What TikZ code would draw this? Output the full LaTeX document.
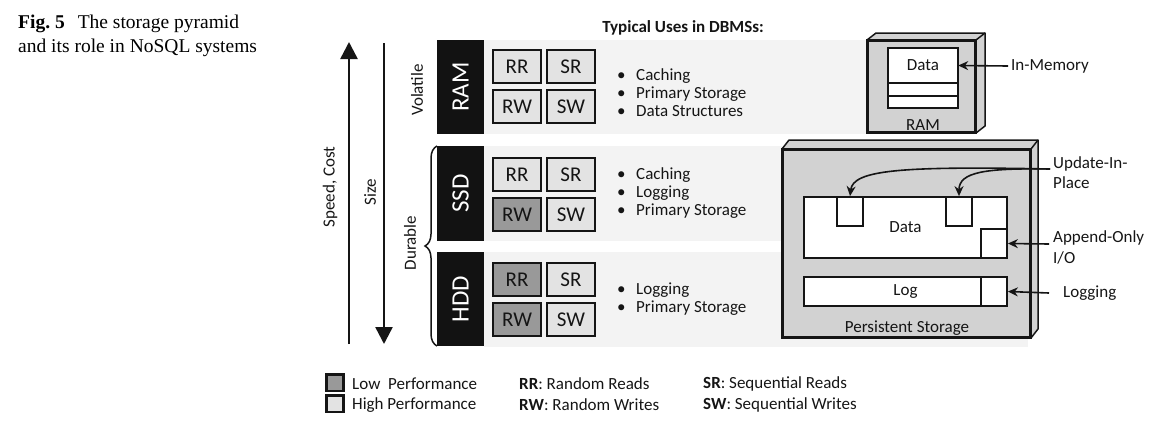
\documentclass[tikz,border=0pt]{standalone}
\usepackage{fontspec}
\setmainfont{Carlito}
\newfontfamily\capfont{Liberation Serif}
\usetikzlibrary{arrows.meta,decorations.pathreplacing}
\definecolor{rowbg}{HTML}{F3F3F3}
\definecolor{hi}{HTML}{E3E3E3}
\definecolor{lo}{HTML}{999999}
\definecolor{boxgray}{HTML}{D2D2D2}
\definecolor{barcol}{HTML}{121212}
\definecolor{ink}{HTML}{151515}
\begin{document}
\begin{tikzpicture}[x=1pt,y=-1pt,
  txt/.style={font=\fontsize{17}{20}\selectfont, text=ink, inner sep=0pt},
  perf/.style={draw=ink, line width=2pt, minimum width=48pt, minimum height=33pt, inner sep=0pt, font=\fontsize{21}{24}\selectfont, text=ink},
  devbar/.style={fill=barcol, minimum width=47pt, minimum height=94pt, inner sep=0pt, text=white, font=\fontsize{25}{28}\selectfont},
  bigarrow/.style={line width=2.5pt, draw=ink, -{Triangle[length=17pt,width=17pt]}},
  conn/.style={line width=1.6pt, draw=ink, -{Stealth[length=10pt,width=9pt]}},
  cell/.style={draw=ink, fill=white, line width=1.8pt, inner sep=0pt},
  usel/.style={txt, align=left, anchor=west, font=\fontsize{17}{18}\selectfont},
  legsq/.style={draw=ink, line width=2.5pt, minimum width=17pt, minimum height=16.5pt, inner sep=0pt}
]
\useasboundingbox (0,0) rectangle (1175,426);

% caption
\node[anchor=base west, inner sep=0pt, font=\capfont\fontsize{19.5}{24}\selectfont] (cap1) at (18,28) {\textbf{Fig.\ 5}\hspace{13pt}The storage pyramid};
\node[anchor=base west, inner sep=0pt, font=\capfont\fontsize{19.5}{24}\selectfont] (cap2) at (18,52) {and its role in NoSQL systems};

% heading
\node[txt, font=\bfseries\fontsize{17}{20}\selectfont] (head) at (683,28) {Typical Uses in DBMSs:};

% row backgrounds
\fill[rowbg] (484,40) rectangle (970,134);
\fill[rowbg] (484,146) rectangle (1028,241);
\fill[rowbg] (484,252) rectangle (1028,347);

% device bars
\node[devbar] (ram) at (460.5,87) {\rotatebox{90}{RAM}};
\node[devbar, minimum height=95pt] (ssd) at (460.5,193.5) {\rotatebox{90}{SSD}};
\node[devbar] (hdd) at (460.5,299) {\rotatebox{90}{HDD}};

% performance boxes
\node[perf, fill=hi] (ramRR) at (517,66.5) {RR};
\node[perf, fill=hi] (ramSR) at (571,66.5) {SR};
\node[perf, fill=hi] (ramRW) at (517,106.5) {RW};
\node[perf, fill=hi] (ramSW) at (571,106.5) {SW};
\node[perf, fill=hi] (ssdRR) at (517,174.5) {RR};
\node[perf, fill=hi] (ssdSR) at (571,174.5) {SR};
\node[perf, fill=lo] (ssdRW) at (517,214.5) {RW};
\node[perf, fill=hi] (ssdSW) at (571,214.5) {SW};
\node[perf, fill=lo] (hddRR) at (517,279.5) {RR};
\node[perf, fill=hi] (hddSR) at (571,279.5) {SR};
\node[perf, fill=lo] (hddRW) at (517,319.5) {RW};
\node[perf, fill=hi] (hddSW) at (571,319.5) {SW};

% uses
\node[usel] (ramuse) at (617,93) {\makebox[19pt][l]{\textbullet}Caching\\\makebox[19pt][l]{\textbullet}Primary Storage\\\makebox[19pt][l]{\textbullet}Data Structures};
\node[usel] (ssduse) at (617,193) {\makebox[19pt][l]{\textbullet}Caching\\\makebox[19pt][l]{\textbullet}Logging\\\makebox[19pt][l]{\textbullet}Primary Storage};
\node[usel] (hdduse) at (617,299) {\makebox[19pt][l]{\textbullet}Logging\\\makebox[19pt][l]{\textbullet}Primary Storage};

% big arrows
\coordinate (sc0) at (349,344);
\coordinate (sc1) at (349,42);
\coordinate (sz0) at (384,43);
\coordinate (sz1) at (384,344);
\draw[bigarrow] (sc0) -- (sc1);
\draw[bigarrow] (sz0) -- (sz1);
\node[txt] (speed) at (330,187) {\rotatebox{90}{Speed, Cost}};
\node[txt] (size) at (370,192) {\rotatebox{90}{Size}};
\node[txt] (vol) at (417,90) {\rotatebox{90}{Volatile}};
\node[txt] (dur) at (410,243) {\rotatebox{90}{Durable}};
\coordinate (br0) at (437,346);
\coordinate (br1) at (437,146);
\draw[line width=1.5pt, draw=ink, decorate, decoration={brace, amplitude=12pt}] (br0) -- (br1);

% RAM device
\node[draw=ink, fill=boxgray, line width=2pt, minimum width=107pt, minimum height=91pt, inner sep=0pt] (ramdev) at (921.5,86.5) {};
\filldraw[fill=boxgray, draw=ink, line width=1.5pt, line join=round]
  (ramdev.north west) -- ([shift={(9,-7)}]ramdev.north west) -- ([shift={(9,-7)}]ramdev.north east)
  -- ([shift={(9,-7)}]ramdev.south east) -- (ramdev.south east) -- (ramdev.north east) -- cycle;
\draw[ink, line width=1.5pt] (ramdev.north east) -- ([shift={(9,-7)}]ramdev.north east);
\draw[ink, line width=2pt] (ramdev.north west) rectangle (ramdev.south east);
\node[cell, minimum width=70pt, minimum height=60pt] (ramin) at (923,78) {};
\node[txt, minimum width=70pt, minimum height=35pt] (ramdata) at (923,65.5) {Data};
\draw[ink, line width=1.8pt] (888,83) -- (958,83);
\draw[ink, line width=1.8pt] (888,96) -- (958,96);
\node[txt] (ramlbl) at (923,125) {RAM};
\node[txt, anchor=west] (inmem) at (1011,66) {In-Memory};
\coordinate (inmemst) at (1008,66);
\draw[conn] (inmemst) -- (ramdata.east);

% persistent storage
\node[draw=ink, fill=boxgray, line width=2pt, minimum width=247pt, minimum height=187pt, inner sep=0pt] (pdev) at (906.5,243.5) {};
\filldraw[fill=boxgray, draw=ink, line width=1.5pt, line join=round]
  (pdev.north west) -- ([shift={(7,-9)}]pdev.north west) -- ([shift={(7,-9)}]pdev.north east)
  -- ([shift={(7,-9)}]pdev.south east) -- (pdev.south east) -- (pdev.north east) -- cycle;
\draw[ink, line width=1.5pt] (pdev.north east) -- ([shift={(7,-9)}]pdev.north east);
\draw[ink, line width=2pt] (pdev.north west) rectangle (pdev.south east);
\node[cell, minimum width=203pt, minimum height=61pt, txt, draw=ink, fill=white, line width=1.8pt] (pdata) at (905.5,227.5) {Data};
\node[cell, minimum width=26pt, minimum height=29pt] (u1) at (850,211.5) {};
\node[cell, minimum width=26pt, minimum height=29pt] (u2) at (959,211.5) {};
\node[cell, minimum width=26pt, minimum height=29pt] (ap) at (994,243.5) {};
\node[cell, minimum width=203pt, minimum height=29pt, txt, draw=ink, fill=white, line width=1.8pt] (plog) at (905.5,291.5) {Log};
\node[cell, minimum width=26pt, minimum height=29pt] (logend) at (994,291.5) {};
\node[txt] (plbl) at (907,328) {Persistent Storage};

\node[txt, anchor=west, align=left, font=\fontsize{17}{20}\selectfont] (updl) at (1053,173) {Update-In-\\Place};
\node[txt, anchor=west, align=left, font=\fontsize{17}{21}\selectfont] (apl) at (1053,247.5) {Append-Only\\I/O};
\node[txt, anchor=west] (logl) at (1063,293) {Logging};
\coordinate (updst) at (1050,169);
\coordinate (apst) at (1049,244);
\coordinate (logst) at (1049,293);
\draw[conn] (updst) .. controls (900,166) and (853,170) .. (u1.north);
\draw[conn] (updst) .. controls (985,168) and (959,172) .. (u2.north);
\draw[conn] (apst) -- (ap.east);
\draw[conn] (logst) -- (logend.east);

% legend
\node[legsq, fill=lo] (lowsq) at (335,382.5) {};
\node[legsq, fill=hi] (highsq) at (335,403.5) {};
\node[txt, anchor=west] (lowt) at (352,384) {Low\hspace{4pt} Performance};
\node[txt, anchor=west] (hight) at (352,405) {High Performance};
\node[txt, anchor=west] (rrt) at (519,384) {\textbf{RR}: Random Reads};
\node[txt, anchor=west] (rwt) at (519,405) {\textbf{RW}: Random Writes};
\node[txt, anchor=west] (srt) at (703,384) {\textbf{SR}: Sequential Reads};
\node[txt, anchor=west] (swt) at (703,405) {\textbf{SW}: Sequential Writes};
\end{tikzpicture}
\end{document}
